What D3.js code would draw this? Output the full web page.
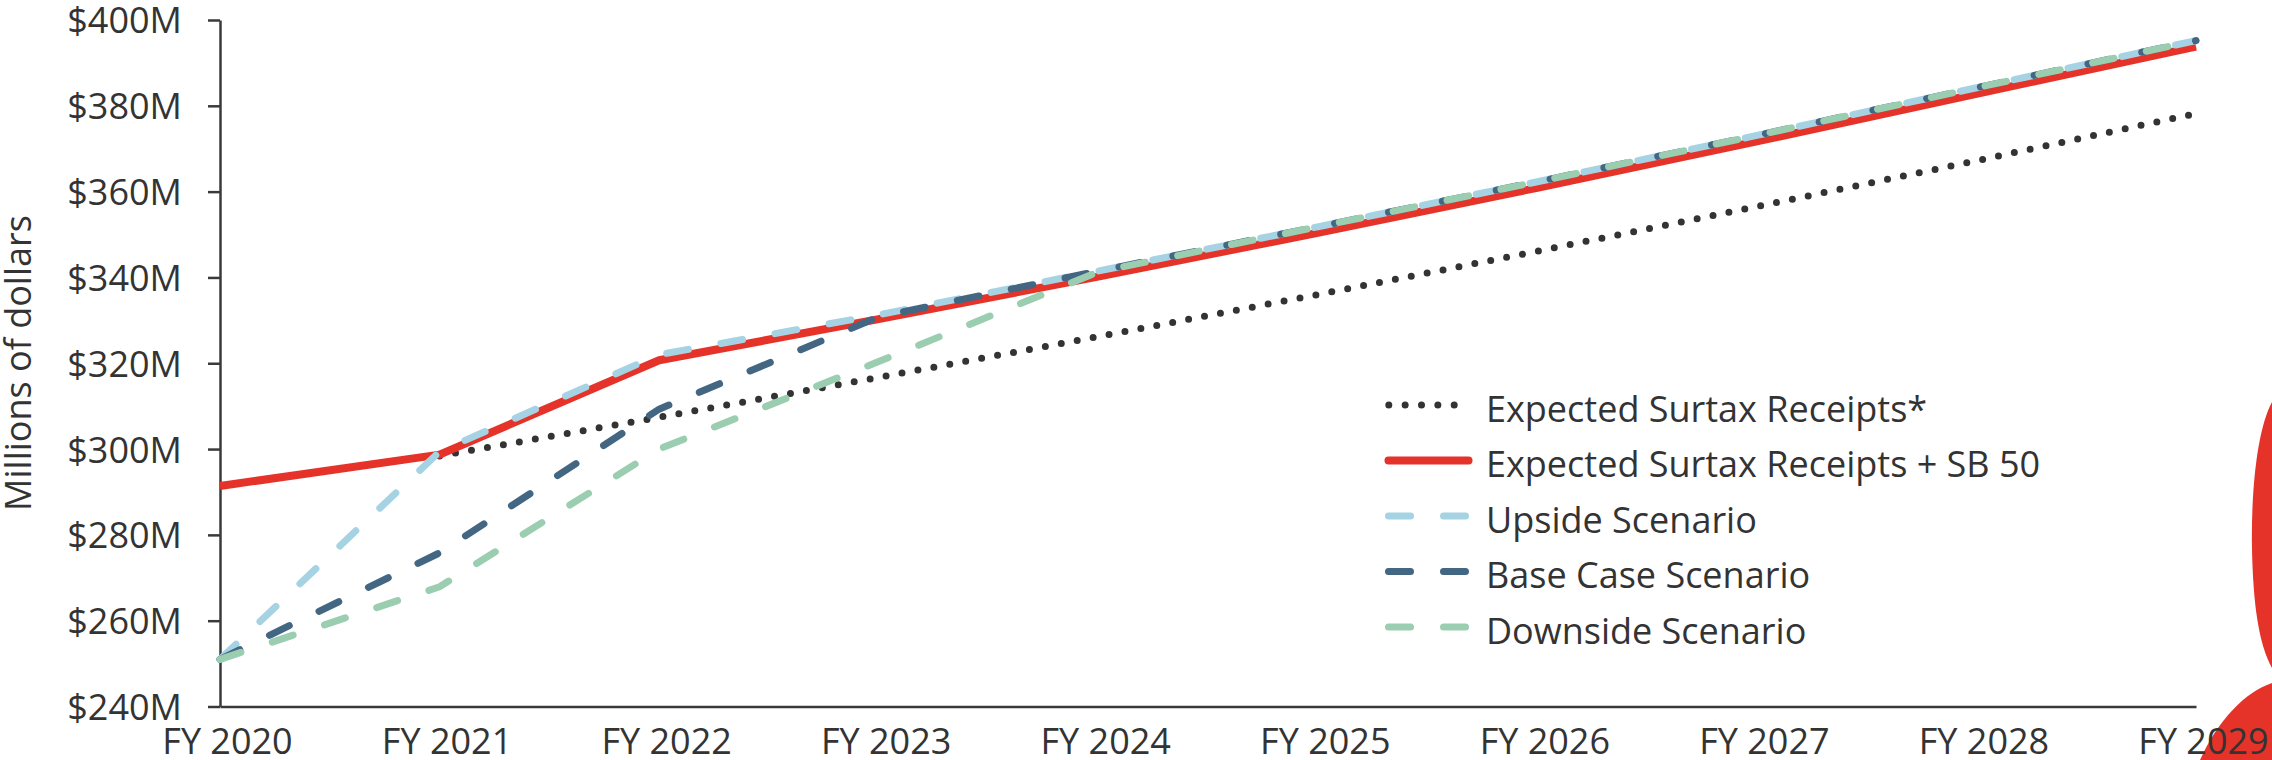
<!DOCTYPE html>
<html>
<head>
<meta charset="utf-8">
<script src="https://cdnjs.cloudflare.com/ajax/libs/d3/7.8.5/d3.min.js"></script>
<style>
body { margin: 0; background: #fff; }
svg text { font-family: "Open Sans", sans-serif; fill: #333; }
</style>
</head>
<body>
<svg id="chart" width="2272" height="760"></svg>
<script>
// values, millions of dollars
var years = ["FY 2020", "FY 2021", "FY 2022", "FY 2023", "FY 2024",
	     "FY 2025", "FY 2026", "FY 2027", "FY 2028", "FY 2029"];

var expected      = [null, 298.4, 307.4, 316.7, 326.2, 336.0, 346.1, 356.5, 367.2, 378.2];
var expected_sb50 = [291.4, 298.7, 320.7, 330.3, 340.2, 350.4, 360.9, 371.7, 382.8, 393.8];
var upside        = [251.0, 299.4, 322.0, 331.3, 341.5, 351.8, 362.3, 373.1, 384.2, 395.2];
var base_case     = [251.0, 275.8, 309.3, 330.8, 341.5, 351.8, 362.3, 373.1, 384.2, 395.2];
var downside      = [251.0, 267.9, 300.0, 320.4, 341.3, 351.8, 362.3, 373.1, 384.2, 395.2];

var y_ticks = [240, 260, 280, 300, 320, 340, 360, 380, 400];

var series_names = ["Expected Surtax Receipts*", "Expected Surtax Receipts + SB 50",
		    "Upside Scenario", "Base Case Scenario", "Downside Scenario"];

var DOTS = "0 16.2";
var DASHES = "22 33";

var series = [
    {name: series_names[0], values: expected, color: "#333333", width: 7, dash: DOTS},
    {name: series_names[1], values: expected_sb50, color: "#e5332a", width: 8, dash: null},
    {name: series_names[2], values: upside, color: "#a6d3e3", width: 7, dash: DASHES},
    {name: series_names[3], values: base_case, color: "#436683", width: 7, dash: DASHES},
    {name: series_names[4], values: downside, color: "#9bcdb0", width: 7, dash: DASHES}
];

var svg = d3.select("#chart");

// red decoration cut off at the right edge
svg.append("path")
    .attr("d", "M2272,402 C2257,430 2251,490 2252,548 C2253,605 2259,645 2272,668 Z")
    .attr("fill", "#e5332a");
svg.append("path")
    .attr("d", "M2272,683 C2245,692 2218,720 2200,760 L2272,760 Z")
    .attr("fill", "#e5332a");

var x = d3.scalePoint()
    .domain(years)
    .range([220, 2196]);

var y = d3.scaleLinear()
    .domain([240, 400])
    .range([706.5, 20]);

// y axis
var y_axis = d3.axisLeft(y)
    .tickValues(y_ticks)
    .tickSize(12)
    .tickSizeOuter(0)
    .tickPadding(26)
    .tickFormat(function(d){ return "$" + d + "M"; });

var gy = svg.append("g")
    .attr("transform", "translate(220,0)")
    .call(y_axis);
gy.select(".domain").attr("stroke", "#3a3a3a").attr("stroke-width", 2.5);
gy.selectAll(".tick line").attr("stroke", "#3a3a3a").attr("stroke-width", 2.5);
gy.selectAll(".tick text")
    .attr("font-size", 36)
    .attr("font-family", null)
    .attr("dy", "0.36em");

// x axis
var x_axis = d3.axisBottom(x)
    .tickSize(0)
    .tickSizeOuter(0);

var gx = svg.append("g")
    .attr("transform", "translate(0,706.5)")
    .call(x_axis);
gx.select(".domain").attr("stroke", "#3a3a3a").attr("stroke-width", 2.5);
gx.selectAll(".tick text")
    .attr("font-size", 36)
    .attr("font-family", null)
    .attr("y", 47)
    .attr("dy", 0)
    .attr("dx", 7);

svg.append("text")
    .attr("transform", "translate(31,363) rotate(-90)")
    .attr("text-anchor", "middle")
    .attr("font-size", 36)
    .text("Millions of dollars");

// lines
var line = d3.line()
    .defined(function(d){ return d != null; })
    .x(function(d, i){ return x(years[i]); })
    .y(function(d){ return y(d); });

svg.append("g")
    .selectAll("path")
    .data(series)
    .enter()
    .append("path")
    .attr("d", function(s){ return line(s.values); })
    .attr("fill", "none")
    .attr("stroke", function(s){ return s.color; })
    .attr("stroke-width", function(s){ return s.width; })
    .attr("stroke-dasharray", function(s){ return s.dash; })
    .attr("stroke-linecap", function(s){ return s.dash ? "round" : "butt"; })
    .attr("stroke-linejoin", "round");

// legend
var legend = svg.append("g")
    .attr("transform", "translate(1385,405)");

var rows = legend.selectAll("g")
    .data(series)
    .enter()
    .append("g")
    .attr("transform", function(s, i){ return "translate(0," + (i * 55.5) + ")"; });

rows.append("line")
    .attr("x1", function(s){ return s.dash == DOTS ? 3.8 : 3.5; })
    .attr("x2", function(s){ return s.dash == DOTS ? 69.5 : 83.5; })
    .attr("y1", 0)
    .attr("y2", 0)
    .attr("stroke", function(s){ return s.color; })
    .attr("stroke-width", function(s){ return s.width; })
    .attr("stroke-dasharray", function(s){ return s.dash == DOTS ? "0 16.35" : s.dash; })
    .attr("stroke-linecap", "round");

rows.append("text")
    .attr("x", 101)
    .attr("y", 16.5)
    .attr("font-size", 36)
    .text(function(s){ return s.name; });
</script>
</body>
</html>
